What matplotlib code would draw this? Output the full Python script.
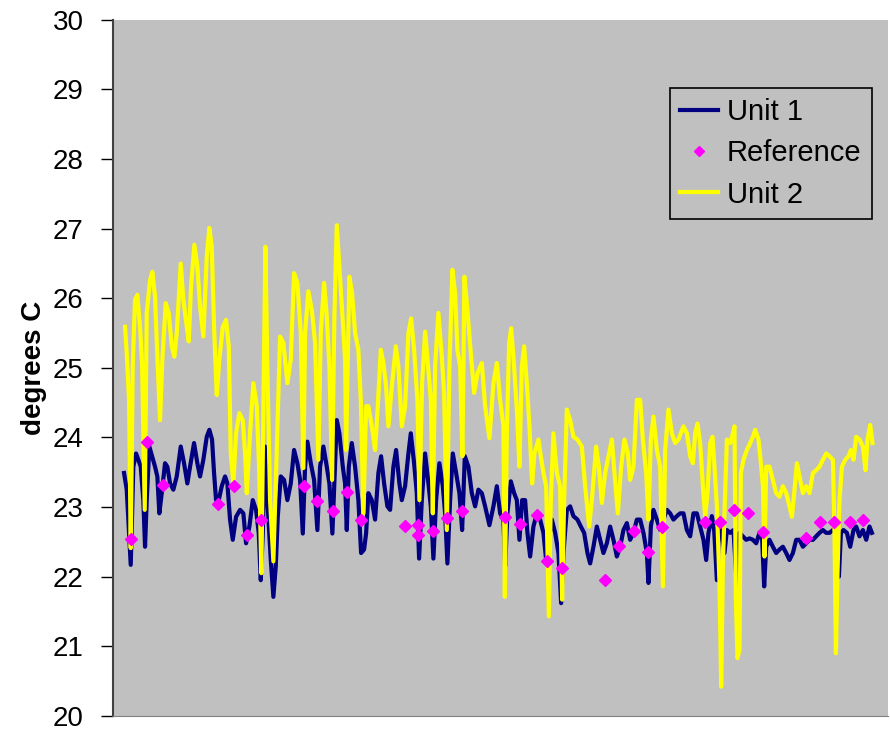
import matplotlib
matplotlib.use('Agg')
import matplotlib.pyplot as plt

plt.rcParams['font.family'] = ['Liberation Sans', 'DejaVu Sans']

# time axis in hours from start of logging
unit1_t = [11, 13.7, 16, 17.7, 20.3, 23, 25.3, 27.7, 30.3, 32, 33.7, 36.3, 39, 42, 44.3, 46.3, 48.7, 52, 54.3,
           57, 60.3, 63.7, 67.7, 71, 74.3, 77, 81, 84.3, 87, 90.3, 93.7, 96.3, 99, 101, 103, 105.7, 108.7, 112,
           114.3, 117, 119.7, 123, 127, 130.3, 133, 136.3, 139.7, 143, 145.7, 147.7, 149.7, 152, 154.3, 157.7,
           160.3, 162.7, 164.7, 167.7, 171, 174.3, 177.7, 181, 184.3, 187, 189.7, 192, 194.3, 197.7, 201, 204.3,
           207, 210.3, 213.7, 216.3, 219.3, 221.7, 223.7, 226.3, 229.7, 232, 233.7, 235.7, 238.7, 242, 245.3,
           248, 251, 253, 255.3, 258.7, 262, 265.3, 268, 271, 274.3, 277, 280.3, 283, 286.3, 288.7, 292, 295.3,
           297.7, 301, 303.7, 306, 308.7, 312, 315.3, 317.7, 320.3, 323, 326.3, 329.7, 332, 334.3, 337, 339.7,
           343, 346.3, 349, 351.7, 355.3, 358.7, 362, 365.3, 368.7, 372, 376.3, 380.3, 383.7, 387, 390.3, 392,
           394.3, 397.7, 401, 403.7, 406.3, 409, 412, 414.3, 417, 420.3, 423.7, 427, 430.3, 433, 435.7, 438.7,
           442, 445.3, 448, 450.3, 453.7, 457, 460.3, 464.3, 467.7, 471, 474.3, 477, 480.3, 483.7, 487, 490.3,
           493.7, 497, 500.3, 503.7, 507, 510.3, 513.7, 517, 520.3, 523.7, 527, 530.3, 533.7, 535.3, 537.7,
           540.3, 543.7, 547, 550.3, 553.7, 557, 560.3, 563.7, 567, 570.3, 573.7, 577, 580.3, 583.7, 587, 590.3,
           593, 595.3, 598.7, 601, 603.7, 606, 608.7, 611.3, 613.7, 617, 620.3, 623.7, 626.3, 629.7, 633, 636.3,
           639.7, 643, 646.3, 649, 651, 653, 656.3, 659.7, 663, 666.3, 669.7, 673, 676.3, 679.7, 683, 686.3,
           689.7, 693, 696.3, 699.7, 703, 706.3, 709.7, 713, 716.3, 719.7, 723, 725.7, 727.7, 730.3, 733.7, 737,
           740.3, 743, 746.3, 749.7, 753, 756.3, 758.7]
unit1_temp = [23.49, 23.25, 22.62, 22.17, 23.58, 23.77, 23.68, 23.58, 23.10, 22.43, 23.10, 23.87, 23.73, 23.58,
              23.44, 22.91, 23.20, 23.63, 23.58, 23.34, 23.25, 23.44, 23.87, 23.63, 23.34, 23.58, 23.92, 23.63,
              23.44, 23.68, 24.01, 24.11, 23.97, 23.49, 23.10, 23.10, 23.30, 23.44, 23.34, 22.82, 22.53, 22.86,
              22.96, 22.91, 22.48, 22.72, 23.10, 22.96, 22.62, 21.95, 22.62, 23.87, 23.10, 22.24, 21.71, 22.15,
              22.86, 23.44, 23.39, 23.10, 23.34, 23.82, 23.63, 23.39, 22.62, 23.58, 23.94, 23.63, 23.39, 22.67,
              23.58, 23.87, 23.58, 23.34, 22.62, 23.49, 24.25, 24.06, 23.58, 23.34, 22.67, 23.58, 23.92, 23.58,
              23.10, 22.34, 22.39, 22.62, 23.20, 23.10, 22.82, 23.49, 23.73, 23.34, 23.01, 22.96, 23.58, 23.82,
              23.34, 23.10, 23.30, 23.77, 24.06, 23.63, 23.20, 22.26, 23.10, 23.77, 23.34, 23.01, 22.26, 23.10,
              23.63, 23.30, 22.91, 22.19, 23.10, 23.77, 23.49, 23.20, 22.67, 23.73, 23.58, 23.20, 23.01, 23.25,
              23.20, 23.01, 22.74, 23.01, 23.30, 22.91, 22.82, 22.15, 22.91, 23.37, 23.20, 23.10, 22.53, 23.10,
              23.10, 22.63, 22.29, 22.72, 22.91, 22.82, 22.63, 22.24, 22.53, 22.82, 22.63, 22.34, 21.62, 22.34,
              22.96, 23.01, 22.87, 22.82, 22.72, 22.63, 22.34, 22.19, 22.43, 22.72, 22.53, 22.34, 22.48, 22.72,
              22.53, 22.29, 22.43, 22.67, 22.77, 22.53, 22.63, 22.82, 22.82, 22.63, 22.34, 21.91, 22.72, 22.96,
              22.82, 22.67, 22.82, 22.96, 22.91, 22.82, 22.87, 22.91, 22.91, 22.67, 22.58, 22.91, 22.91, 22.72,
              22.53, 22.24, 22.63, 22.87, 22.67, 21.95, 22.72, 22.63, 22.34, 22.67, 22.63, 22.67, 21.86, 22.63,
              22.58, 22.53, 22.55, 22.53, 22.48, 22.63, 22.53, 21.86, 22.43, 22.53, 22.43, 22.34, 22.39, 22.43,
              22.34, 22.24, 22.34, 22.53, 22.53, 22.43, 22.48, 22.53, 22.53, 22.58, 22.63, 22.67, 22.63, 22.63,
              22.67, 22.63, 22.00, 22.63, 22.67, 22.63, 22.43, 22.67, 22.72, 22.58, 22.67, 22.53, 22.72, 22.63]

ref_t = [17.7, 33.7, 50.3, 105.3, 121.3, 134.3, 148, 191, 204.3, 220.3, 233.7, 247.7, 292, 305.3, 305.3, 319.7,
         333.7, 349.3, 392, 407, 423.7, 434.3, 448.7, 492, 506.3, 521, 535.3, 549.3, 592, 607, 621, 635.3,
         649.7, 693, 707, 721, 736.3, 749.7]
ref_temp = [22.54, 23.94, 23.32, 23.05, 23.30, 22.60, 22.81, 23.30, 23.09, 22.94, 23.22, 22.81, 22.73, 22.74,
            22.60, 22.65, 22.85, 22.94, 22.86, 22.76, 22.89, 22.22, 22.12, 21.95, 22.44, 22.65, 22.35, 22.71,
            22.79, 22.79, 22.96, 22.91, 22.64, 22.55, 22.78, 22.79, 22.79, 22.81]

unit2_t = [12, 13.7, 16, 17.7, 19.7, 22, 24.3, 27, 29, 31.7, 33.7, 37, 39.3, 42, 44.3, 47, 49.3, 52.7, 55.7,
           58.7, 61.3, 63.7, 67.7, 70.3, 73.7, 75.7, 78, 81.3, 84.3, 87, 90.3, 93.7, 96.3, 98.7, 101, 103.7,
           106.3, 109.7, 113, 115.7, 117.7, 120.3, 123, 126.3, 129.7, 132, 133.7, 137, 140.3, 143.7, 146, 148.3,
           150.3, 152.3, 154.3, 157, 160.3, 163.7, 167, 170.3, 174.3, 177.7, 181, 184.3, 187.7, 190.3, 192,
           195.3, 198.7, 202, 205.3, 207.7, 211, 213.7, 216.3, 219, 221.3, 223.7, 226.3, 229, 232, 233, 236.3,
           239, 242, 245.3, 247.7, 250.3, 253, 255.3, 258.7, 262, 264.7, 267.7, 270.3, 273, 275.3, 278.7, 282.7,
           285.3, 288.7, 292, 295.3, 298, 301, 304.3, 306.3, 309, 312, 315, 317.7, 319.7, 322, 325.3, 328.7, 331,
           333.7, 336.3, 339.3, 342, 344.3, 347, 349.3, 351.3, 354.3, 357.7, 361, 364.3, 368.7, 372, 376.3,
           380.3, 383.7, 387, 390.3, 391.7, 393.7, 396, 398, 400.3, 403.7, 406.3, 408.7, 411, 413.7, 416.3, 419,
           421.3, 425.3, 427.7, 430.3, 433, 435.7, 437.7, 440.3, 443.7, 447, 449, 451, 453.7, 457, 460.3, 464.3,
           468.7, 472, 476, 478.7, 483, 485.7, 488.7, 492, 495.3, 498.7, 501.3, 504.7, 508, 511.3, 514.7, 517,
           520.3, 523.7, 527, 529.7, 533, 535.3, 537.7, 540.3, 543.7, 547, 549.7, 552, 555.3, 558.7, 562, 565.3,
           570.3, 573.7, 577, 579.7, 582, 584.3, 587, 589.7, 592, 594.3, 597, 599.3, 601.3, 603.7, 606.3, 608,
           609.7, 611.3, 613.7, 617, 619.7, 621.3, 622.7, 624.3, 626.3, 627.7, 630.3, 633.7, 637, 639.7, 642,
           645.3, 647.7, 649.7, 651.3, 653, 656.3, 659.7, 663, 666.3, 669.7, 673, 676.3, 678.7, 681, 683.7, 686.3,
           689.7, 693, 696.3, 699.7, 703, 706.3, 709.7, 713, 716.3, 719.7, 721.3, 722.7, 724.3, 726.3, 728.7,
           732, 735.3, 737.7, 740.3, 743, 746.3, 749.7, 752.3, 754.3, 757, 759.3]
unit2_temp = [25.59, 25.21, 24.54, 22.41, 25.02, 25.98, 26.05, 25.59, 25.07, 22.96, 25.79, 26.26, 26.38, 26.02,
              25.16, 24.25, 25.12, 25.93, 25.79, 25.31, 25.16, 25.50, 26.50, 25.98, 25.59, 25.38, 26.17, 26.77,
              26.46, 25.88, 25.45, 26.60, 27.01, 26.74, 25.59, 24.61, 25.12, 25.59, 25.69, 25.31, 23.77, 23.34,
              24.06, 24.35, 24.25, 23.77, 23.20, 24.06, 24.78, 24.45, 23.58, 22.05, 24.45, 26.74, 25.02, 23.10,
              22.22, 23.82, 25.45, 25.36, 24.78, 25.12, 26.36, 26.22, 25.50, 23.56, 25.50, 26.10, 25.83, 25.36,
              23.68, 25.50, 26.22, 25.74, 25.02, 23.39, 25.74, 27.05, 26.46, 25.83, 25.12, 23.82, 26.31, 26.07,
              25.50, 25.26, 24.54, 22.91, 24.45, 24.45, 24.16, 23.82, 24.45, 25.26, 25.07, 24.73, 24.16, 24.73,
              25.31, 25.02, 24.16, 24.45, 25.50, 25.71, 25.26, 24.54, 23.10, 24.78, 25.52, 25.02, 24.54, 22.91,
              25.02, 25.79, 25.16, 24.64, 22.67, 25.02, 26.41, 26.07, 25.26, 25.02, 23.73, 26.31, 25.83, 25.21,
              24.64, 24.92, 25.07, 24.45, 23.99, 24.78, 25.07, 24.54, 24.16, 21.71, 24.06, 25.35, 25.57, 25.16,
              24.40, 23.58, 25.02, 25.31, 24.78, 24.16, 23.34, 23.77, 23.97, 23.73, 23.49, 23.30, 21.43, 23.10,
              24.06, 23.49, 23.30, 21.67, 23.10, 24.40, 24.25, 24.01, 23.97, 23.87, 23.30, 22.72, 23.10, 23.87,
              23.58, 23.06, 23.49, 23.73, 23.97, 23.49, 22.91, 23.58, 23.97, 23.77, 23.39, 23.58, 24.54, 24.54,
              23.97, 23.49, 22.82, 23.97, 24.30, 23.82, 23.58, 21.86, 23.82, 24.40, 24.06, 23.92, 23.97, 24.16,
              24.06, 23.73, 23.63, 24.06, 24.20, 23.92, 23.30, 22.86, 23.20, 23.92, 24.01, 23.58, 23.01, 21.91,
              20.42, 22.15, 22.91, 23.97, 23.92, 24.06, 24.16, 21.67, 20.83, 20.95, 23.49, 23.68, 23.82, 23.92,
              24.01, 24.11, 23.97, 23.63, 23.30, 22.29, 23.58, 23.58, 23.39, 23.20, 23.15, 23.30, 23.20, 23.01,
              22.86, 23.20, 23.63, 23.44, 23.20, 23.30, 23.20, 23.49, 23.53, 23.58, 23.68, 23.77, 23.73, 23.68,
              22.62, 20.90, 22.05, 23.10, 23.58, 23.68, 23.73, 23.82, 23.68, 24.01, 23.97, 23.87, 23.53, 23.97,
              24.18, 23.92]

fig = plt.figure(figsize=(8.9, 7.35), dpi=100)
ax = fig.add_axes([0.127, 0.026, 0.871, 0.947])
ax.set_facecolor('#C0C0C0')

l1, = ax.plot(unit1_t, unit1_temp, color='#000080', lw=3.0, label='Unit 1', zorder=2)
l2, = ax.plot(unit2_t, unit2_temp, color='#FFFF00', lw=3.0, label='Unit 2', zorder=3)
l3, = ax.plot(ref_t, ref_temp, ls='none', marker='D', ms=6, color='#FF00FF', label='Reference', zorder=4)

ax.set_xlim(0, 775)
ax.set_ylim(20, 30)
ax.set_yticks(range(20, 31))
ax.set_xticks([])
ax.tick_params(axis='y', labelsize=20, length=9, width=1, pad=12, direction='out')
ax.set_ylabel('degrees C', fontsize=20, fontweight='bold', labelpad=4)

ax.spines['top'].set_visible(False)
ax.spines['right'].set_visible(False)
ax.spines['left'].set_color('#404040')
ax.spines['left'].set_linewidth(1.5)
ax.spines['bottom'].set_color('#808080')

leg = ax.legend([l1, l3, l2], ['Unit 1', 'Reference', 'Unit 2'], loc='upper right',
                bbox_to_anchor=(0.979, 0.902), borderaxespad=0, fontsize=21, frameon=True,
                fancybox=False, edgecolor='black', facecolor='#C0C0C0', framealpha=1,
                handlelength=1.3, handletextpad=0.3, labelspacing=0.45, borderpad=0.35)
leg.get_frame().set_linewidth(1.2)
for h in leg.legend_handles:
    if h.get_marker() == 'D':
        h.set_markersize(5)

plt.savefig('out.png', dpi=100)
